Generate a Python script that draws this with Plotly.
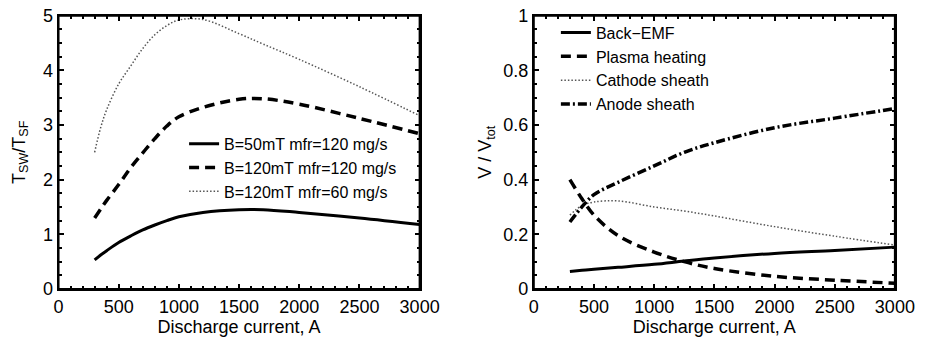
import plotly.graph_objects as go

# Left panel data
current_a = [300, 350, 400, 500, 600, 700, 800, 900, 1000, 1200, 1500, 1700, 2000, 2500, 3000]
b50_mfr120 = [0.53, 0.62, 0.70, 0.85, 0.97, 1.08, 1.17, 1.25, 1.32, 1.40, 1.45, 1.45, 1.40, 1.30, 1.18]
b120_mfr120 = [1.30, 1.46, 1.62, 1.91, 2.22, 2.49, 2.75, 2.98, 3.15, 3.32, 3.47, 3.48, 3.38, 3.12, 2.84]
b120_mfr60 = [2.50, 2.95, 3.28, 3.75, 4.08, 4.40, 4.65, 4.82, 4.92, 4.93, 4.67, 4.48, 4.20, 3.70, 3.17]

# Right panel data
current_b = [300, 400, 500, 700, 1000, 1250, 1500, 2000, 2500, 3000]
back_emf = [0.064, 0.068, 0.072, 0.079, 0.090, 0.102, 0.113, 0.130, 0.141, 0.153]
plasma_heating = [0.40, 0.33, 0.27, 0.195, 0.135, 0.10, 0.075, 0.046, 0.032, 0.021]
cathode_sheath = [0.27, 0.305, 0.318, 0.322, 0.30, 0.285, 0.267, 0.228, 0.193, 0.161]
anode_sheath = [0.245, 0.30, 0.345, 0.39, 0.45, 0.50, 0.535, 0.59, 0.625, 0.66]

x_ticks = [0, 500, 1000, 1500, 2000, 2500, 3000]

FONT = "Liberation Sans, Arial, Helvetica, sans-serif"
DOT_COLOR = "#555555"
DASH = "10px,6px"
DOT = "1.5px,2px"
DASHDOT = "9px,3px,2px,3px"

fig = go.Figure()
fig.add_trace(go.Scatter(x=current_a, y=b50_mfr120, mode="lines", name="B=50mT mfr=120 mg/s",
                         line=dict(color="black", width=3, shape="spline"), xaxis="x", yaxis="y", legend="legend"))
fig.add_trace(go.Scatter(x=current_a, y=b120_mfr120, mode="lines", name="B=120mT mfr=120 mg/s",
                         line=dict(color="black", width=3.5, dash=DASH, shape="spline"), xaxis="x", yaxis="y", legend="legend"))
fig.add_trace(go.Scatter(x=current_a, y=b120_mfr60, mode="lines", name="B=120mT mfr=60 mg/s",
                         line=dict(color=DOT_COLOR, width=1.5, dash=DOT, shape="spline"), xaxis="x", yaxis="y", legend="legend"))

fig.add_trace(go.Scatter(x=current_b, y=back_emf, mode="lines", name="Back\u2212EMF",
                         line=dict(color="black", width=3, shape="spline"), xaxis="x2", yaxis="y2", legend="legend2"))
fig.add_trace(go.Scatter(x=current_b, y=plasma_heating, mode="lines", name="Plasma heating",
                         line=dict(color="black", width=3.5, dash=DASH, shape="spline"), xaxis="x2", yaxis="y2", legend="legend2"))
fig.add_trace(go.Scatter(x=current_b, y=cathode_sheath, mode="lines", name="Cathode sheath",
                         line=dict(color=DOT_COLOR, width=1.5, dash=DOT, shape="spline"), xaxis="x2", yaxis="y2", legend="legend2"))
fig.add_trace(go.Scatter(x=current_b, y=anode_sheath, mode="lines", name="Anode sheath",
                         line=dict(color="black", width=3.5, dash=DASHDOT, shape="spline"), xaxis="x2", yaxis="y2", legend="legend2"))

axis_common = dict(showline=True, linecolor="black", linewidth=2, mirror="ticks", ticks="inside",
                   ticklen=5, tickwidth=1.5, tickcolor="black", showgrid=False, zeroline=False,
                   ticklabeloverflow="allow",
                   tickfont=dict(family=FONT, size=18, color="black"))

ydom = [1 - 296 / 347, 1 - 6 / 347]
xdom1 = [55 / 936, 426 / 936]
xdom2 = [543.3 / 936, 914.3 / 936]
title_font = dict(family=FONT, size=18, color="black")

fig.update_layout(
    width=936, height=347, margin=dict(l=0, r=0, t=0, b=0),
    plot_bgcolor="white", paper_bgcolor="white",
    font=dict(family=FONT, size=16, color="black"),
    xaxis=dict(domain=xdom1, range=[0, 3000], tickvals=x_ticks, anchor="y",
               minor=dict(dtick=100, ticks="inside", ticklen=3, tickcolor="black"),
               title=dict(text="Discharge current, A", font=title_font, standoff=1), **axis_common),
    yaxis=dict(domain=ydom, range=[0, 5], dtick=1, anchor="x",
               minor=dict(dtick=0.25, ticks="inside", ticklen=3, tickcolor="black"),
               title=dict(text="T<sub>SW</sub>/T<sub>SF</sub>", font=title_font, standoff=13), **axis_common),
    xaxis2=dict(domain=xdom2, range=[0, 3000], tickvals=x_ticks, anchor="y2",
                minor=dict(dtick=100, ticks="inside", ticklen=3, tickcolor="black"),
                title=dict(text="Discharge current, A", font=title_font, standoff=1), **axis_common),
    yaxis2=dict(domain=ydom, range=[0, 1], dtick=0.2, anchor="x2",
                minor=dict(dtick=0.05, ticks="inside", ticklen=3, tickcolor="black"),
                title=dict(text="V / V<sub>tot</sub>", font=title_font, standoff=7), **axis_common),
    legend=dict(x=184 / 936, y=1 - 124 / 347, xanchor="left", yanchor="top", bgcolor="rgba(0,0,0,0)",
                font=dict(family=FONT, size=16, color="black"), tracegroupgap=0, itemwidth=30),
    legend2=dict(x=566 / 936, y=1 - 6 / 347, xanchor="left", yanchor="top", bgcolor="rgba(0,0,0,0)",
                 font=dict(family=FONT, size=16, color="black"), tracegroupgap=0, itemwidth=30),
    shapes=[
        dict(type="rect", xref="x domain", yref="y domain", x0=0, x1=1, y0=0, y1=1,
             line=dict(color="black", width=2), layer="above"),
        dict(type="rect", xref="x2 domain", yref="y2 domain", x0=0, x1=1, y0=0, y1=1,
             line=dict(color="black", width=2), layer="above"),
    ],
)

fig.write_html("out.html")
